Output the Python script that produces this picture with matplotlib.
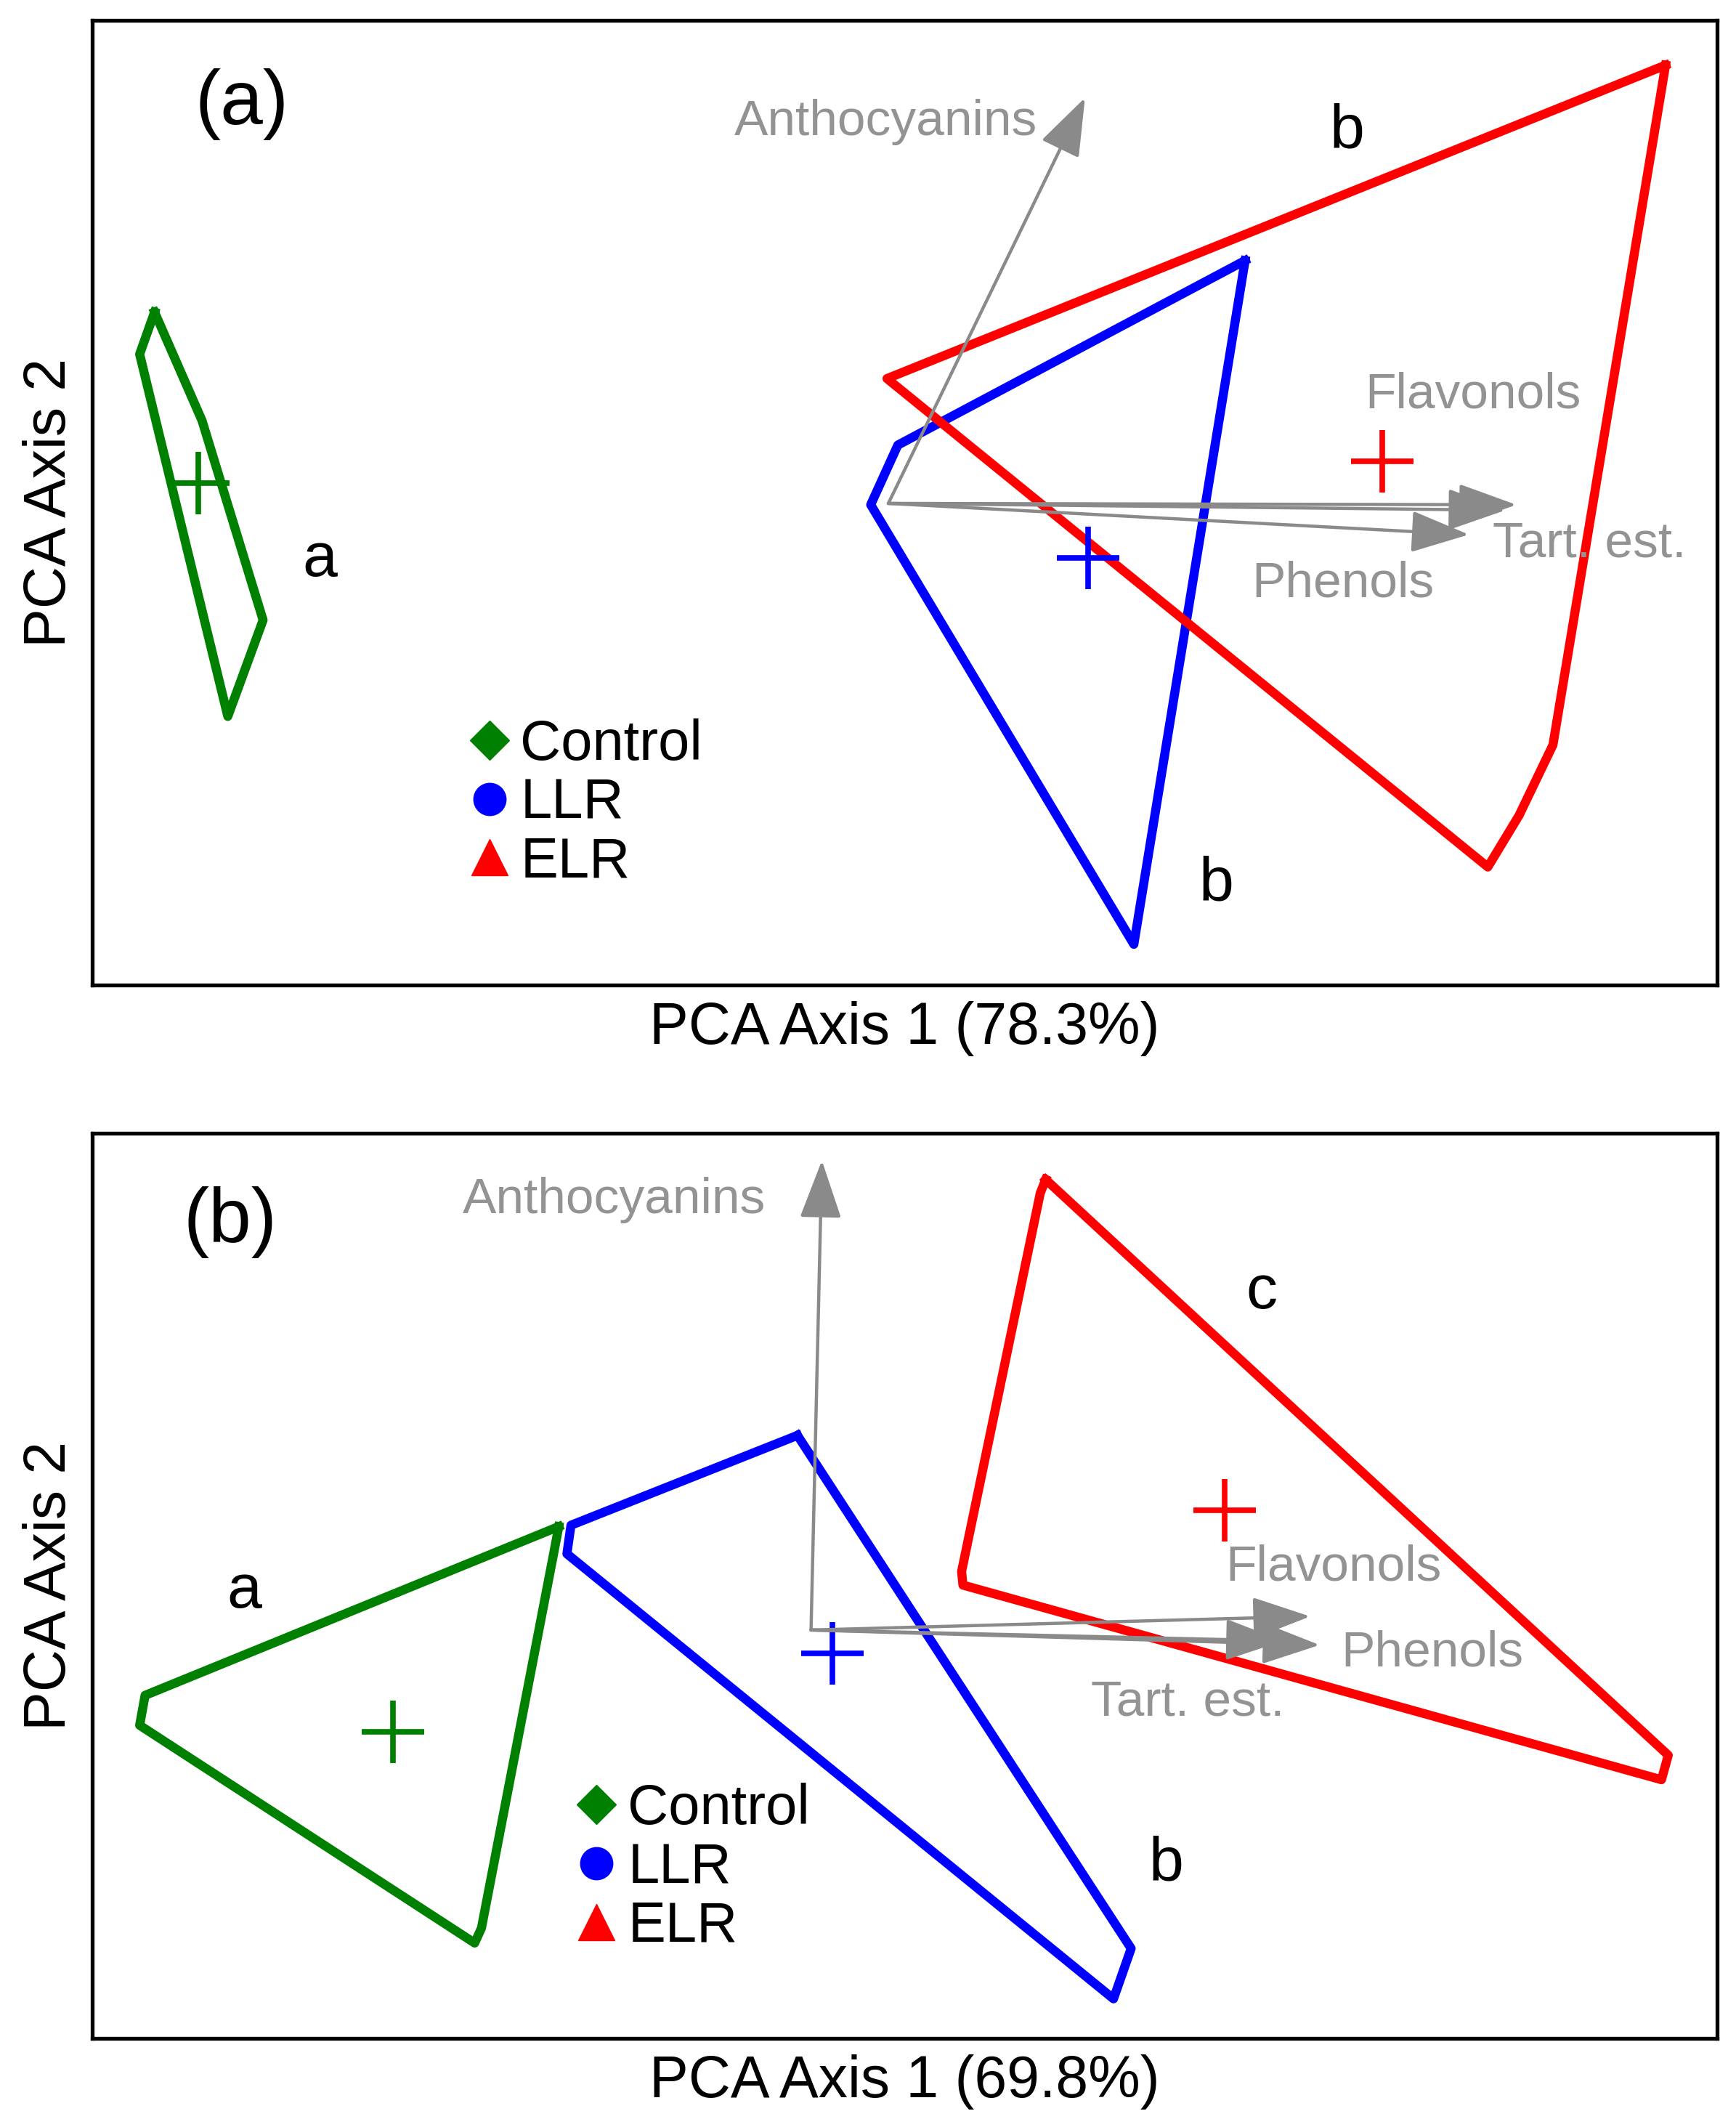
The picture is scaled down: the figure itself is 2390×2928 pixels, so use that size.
import matplotlib.pyplot as plt
from matplotlib.lines import Line2D

plt.rcParams['font.family'] = ['Liberation Sans', 'DejaVu Sans']

# group hulls and centroids, panel (a)
a_control_x = [-5.41, -5.52, -4.87, -4.61, -5.06, -5.41]
a_control_y = [1.41, 1.10, -1.57, -0.86, 0.61, 1.41]
a_llr_x = [2.63, 0.07, -0.13, 1.81, 2.63]
a_llr_y = [1.79, 0.43, -0.01, -3.25, 1.79]
a_elr_x = [5.73, -0.01, 4.42, 4.65, 4.90, 5.73]
a_elr_y = [3.23, 0.92, -2.68, -2.30, -1.78, 3.23]
a_centroids = {"Control": (-5.09, 0.15), "LLR": (1.47, -0.40), "ELR": (3.64, 0.31)}

# variable loadings, panel (a)
a_vars = ["Anthocyanins", "Flavonols", "Phenols", "Tart. est."]
a_vec_x = [1.45, 4.63, 4.55, 4.28]
a_vec_y = [2.99, -0.01, -0.05, -0.23]
a_lab_x = [-0.02, 4.31, 3.35, 5.17]
a_lab_y = [2.81, 0.80, -0.59, -0.30]
a_groups = ["b", "a", "b"]
a_grp_x = [3.38, -4.19, 2.42]
a_grp_y = [2.74, -0.42, -2.81]

# panel (b)
b_control_x = [-1.86, -1.90, -2.43, -2.48, -4.95, -4.91, -1.86]
b_control_y = [0.76, 0.55, -2.19, -2.30, -0.70, -0.48, 0.76]
b_llr_x = [-0.10, 2.36, 2.23, -1.80, -1.77, -0.10]
b_llr_y = [1.43, -2.34, -2.71, 0.56, 0.77, 1.43]
b_elr_x = [1.73, 1.69, 1.11, 1.12, 6.27, 6.32, 1.73]
b_elr_y = [3.31, 3.21, 0.43, 0.33, -1.10, -0.92, 3.31]
b_centroids = {"Control": (-3.08, -0.75), "LLR": (0.16, -0.17), "ELR": (3.05, 0.88)}

b_vars = ["Anthocyanins", "Flavonols", "Tart. est.", "Phenols"]
b_vec_x = [0.08, 3.68, 3.48, 3.75]
b_vec_y = [3.45, 0.10, -0.08, -0.11]
b_lab_x = [-1.45, 3.85, 2.78, 4.58]
b_lab_y = [3.16, 0.46, -0.53, -0.17]
b_groups = ["c", "a", "b"]
b_grp_x = [3.32, -4.18, 2.62]
b_grp_y = [2.48, 0.28, -1.72]

colors = {"Control": "#008000", "LLR": "#0000ff", "ELR": "#ff0000"}
markers = {"Control": "D", "LLR": "o", "ELR": "^"}
msizes = {"Control": 28, "LLR": 32, "ELR": 36}
arrow_col = "#8a8a8a"
label_col = "#939393"

fig = plt.figure(figsize=(23.9, 29.28), dpi=100)
ax1 = fig.add_axes([0.0531, 0.5369, 0.9360, 0.4535])
ax2 = fig.add_axes([0.0531, 0.0417, 0.9360, 0.4255])


def draw_panel(ax, hulls, cents, vars_, vx, vy, lx, ly, grps, gx, gy, tag, xlab, xlim, ylim, leg_xy):
    for name, (hx, hy) in hulls.items():
        ax.plot(hx, hy, color=colors[name], lw=9, solid_joinstyle='round', zorder=2)
    for name, (cx, cy) in cents.items():
        ax.plot(cx, cy, marker='+', ms=62, mew=5.5, color=colors[name], zorder=3)
    for i in range(len(vars_)):
        ax.annotate('', xy=(vx[i], vy[i]), xytext=(0, 0),
                    arrowprops=dict(arrowstyle='-|>,head_length=0.5,head_width=0.18',
                                    color=arrow_col, lw=3.2, mutation_scale=100,
                                    shrinkA=0, shrinkB=0), zorder=4)
        ax.text(lx[i], ly[i], vars_[i], color=label_col, fontsize=50,
                ha='center', va='center', zorder=5)
    for i in range(len(grps)):
        ax.text(gx[i], gy[i], grps[i], fontsize=62, ha='center', va='center')
    ax.text(tag[1], tag[2], tag[0], transform=ax.transAxes, fontsize=76,
            ha='center', va='center')
    handles = [Line2D([], [], ls='none', marker=markers[n], color=colors[n],
                      ms=msizes[n], label=n) for n in colors]
    ax.legend(handles=handles, loc='center left', bbox_to_anchor=leg_xy,
              frameon=False, fontsize=56, handlelength=0.6, handletextpad=0.25,
              labelspacing=0.1, borderpad=0, borderaxespad=0)
    ax.set_xlim(*xlim)
    ax.set_ylim(*ylim)
    ax.set_xticks([])
    ax.set_yticks([])
    for s in ax.spines.values():
        s.set_linewidth(3.8)
    ax.set_xlabel(xlab, fontsize=58, labelpad=16)
    ax.set_ylabel("PCA Axis 2", fontsize=58, labelpad=14)


draw_panel(ax1,
           {"Control": (a_control_x, a_control_y), "LLR": (a_llr_x, a_llr_y), "ELR": (a_elr_x, a_elr_y)},
           a_centroids, a_vars, a_vec_x, a_vec_y, a_lab_x, a_lab_y,
           a_groups, a_grp_x, a_grp_y, ("(a)", 0.092, 0.913),
           "PCA Axis 1 (78.3%)", (-5.87, 6.11), (-3.55, 3.56), (0.234, 0.188))
draw_panel(ax2,
           {"Control": (b_control_x, b_control_y), "LLR": (b_llr_x, b_llr_y), "ELR": (b_elr_x, b_elr_y)},
           b_centroids, b_vars, b_vec_x, b_vec_y, b_lab_x, b_lab_y,
           b_groups, b_grp_x, b_grp_y, ("(b)", 0.085, 0.902),
           "PCA Axis 1 (69.8%)", (-5.30, 6.68), (-3.00, 3.65), (0.300, 0.188))

fig.savefig("out.png", dpi=100)
